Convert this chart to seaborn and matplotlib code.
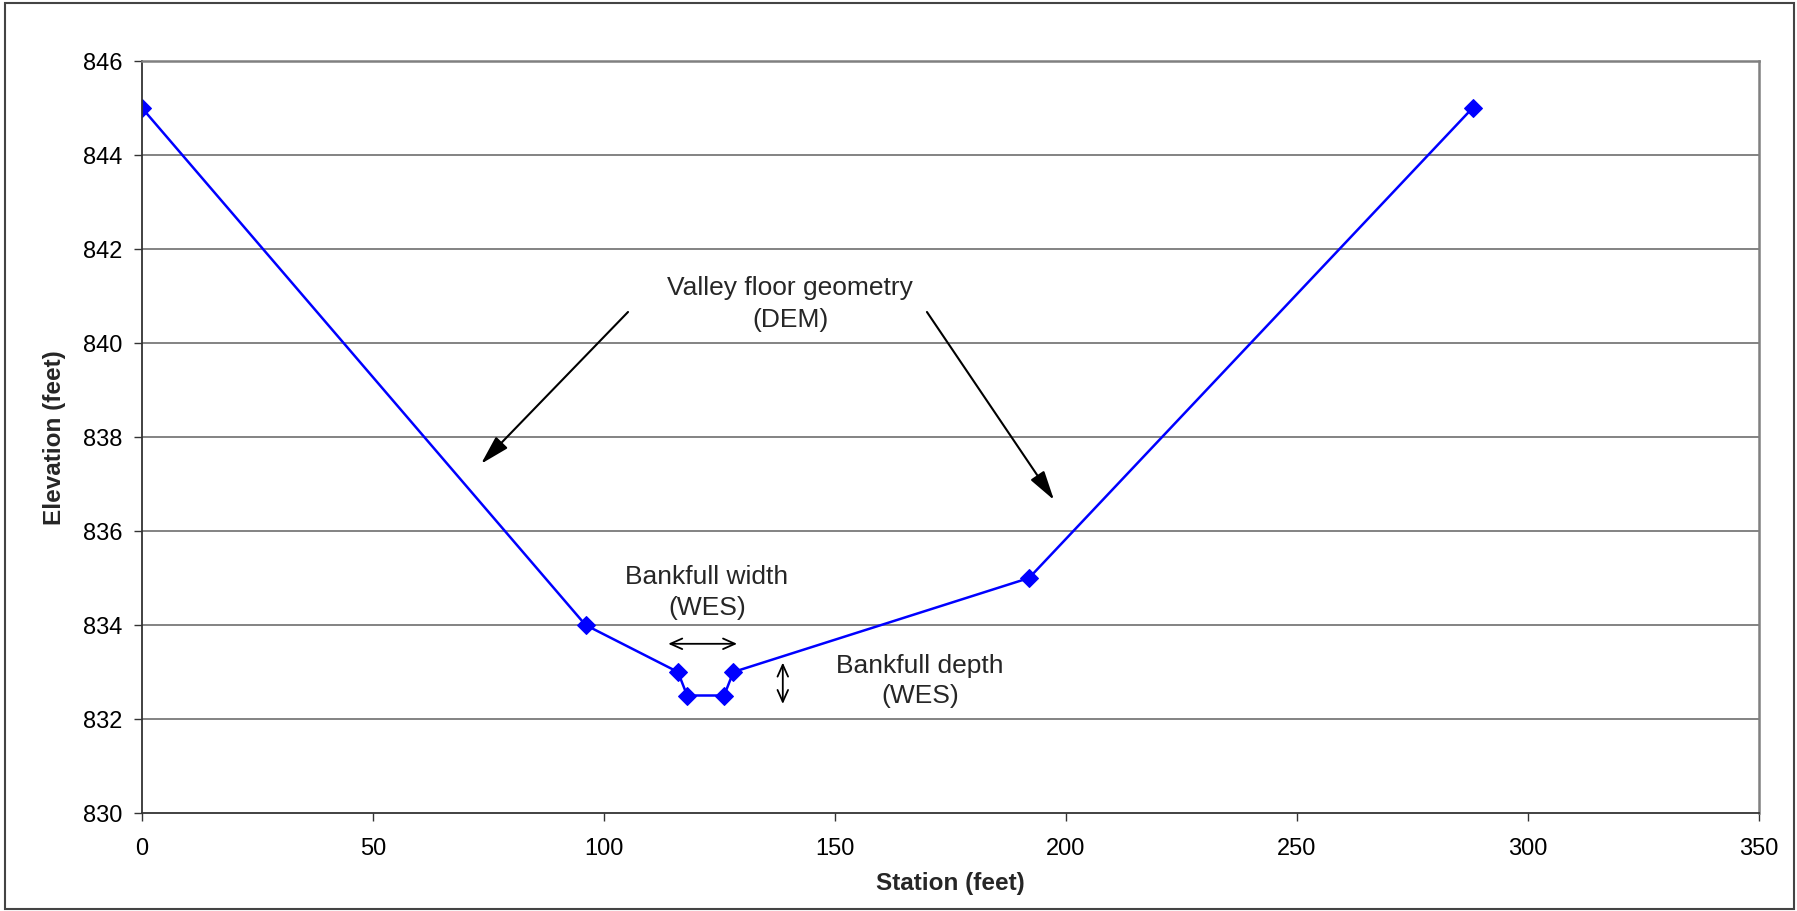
import matplotlib
matplotlib.use("Agg")
import matplotlib.pyplot as plt
import seaborn as sns
import pandas as pd
from matplotlib.patches import Rectangle

# cross section points
station = [0, 96, 116, 118, 126, 128, 192, 288]
elevation = [845, 834, 833, 832.5, 832.5, 833, 835, 845]

x_ticks = [0, 50, 100, 150, 200, 250, 300, 350]
y_ticks = [830, 832, 834, 836, 838, 840, 842, 844, 846]

df = pd.DataFrame({"Station": station, "Elevation": elevation})

sns.set_style("white")
plt.rcParams["font.family"] = ["Liberation Sans", "DejaVu Sans"]

fig = plt.figure(figsize=(17.97, 9.12), dpi=100)
ax = fig.add_axes([142 / 1797, 1 - 814 / 912, (1759 - 142) / 1797, (814 - 62) / 912])

# outer chart border
fig.patches.append(Rectangle((5 / 1797, 2 / 912), 1789 / 1797, 906 / 912,
                             transform=fig.transFigure, fill=False,
                             edgecolor="#444444", linewidth=1.5))

for y in y_ticks[1:]:
    ax.axhline(y, color="#7a7a7a", linewidth=1.3, zorder=0)

sns.lineplot(data=df, x="Station", y="Elevation", sort=False, color="#0000FF",
             marker="D", markersize=9.5, markeredgecolor="#0000FF",
             linewidth=1.8, ax=ax)

ax.set_xlim(0, 350)
ax.set_ylim(830, 846)
ax.set_xticks(x_ticks)
ax.set_yticks(y_ticks)
ax.tick_params(axis="both", direction="out", length=6, width=1, color="#333333",
               labelsize=17, labelcolor="black", left=True, bottom=True)
ax.tick_params(axis="x", pad=11)
ax.tick_params(axis="y", pad=8)

for side in ["left", "bottom"]:
    ax.spines[side].set_color("#333333")
    ax.spines[side].set_linewidth(1.3)
for side in ["top", "right"]:
    ax.spines[side].set_color("#808080")
    ax.spines[side].set_linewidth(1.8)

ax.set_xlabel("Station (feet)", fontsize=17.5, fontweight="bold", labelpad=9)
ax.set_ylabel("Elevation (feet)", fontsize=17.5, fontweight="bold", labelpad=12)

# annotations
big_head = "-|>,head_length=1.8,head_width=0.5"
small_head = "<->,head_length=0.85,head_width=0.38"

ax.text(140.3, 840.86, "Valley floor geometry\n(DEM)", ha="center", va="center",
        fontsize=19, linespacing=1.42)
ax.annotate("", xy=(73.4, 837.43), xytext=(105.2, 840.66),
            arrowprops=dict(arrowstyle=big_head, color="black", linewidth=1.5,
                            shrinkA=0, shrinkB=0))
ax.annotate("", xy=(197.4, 836.66), xytext=(169.9, 840.66),
            arrowprops=dict(arrowstyle=big_head, color="black", linewidth=1.5,
                            shrinkA=0, shrinkB=0))

ax.text(122.3, 834.71, "Bankfull width\n(WES)", ha="center", va="center",
        fontsize=19, linespacing=1.36)
ax.annotate("", xy=(113.9, 833.6), xytext=(128.8, 833.6),
            arrowprops=dict(arrowstyle=small_head, color="black", linewidth=1.3,
                            shrinkA=0, shrinkB=0))

ax.text(168.4, 832.83, "Bankfull depth\n(WES)", ha="center", va="center",
        fontsize=19, linespacing=1.36)
ax.annotate("", xy=(138.7, 833.2), xytext=(138.7, 832.32),
            arrowprops=dict(arrowstyle=small_head, color="black", linewidth=1.3,
                            shrinkA=0, shrinkB=0))

fig.savefig("out.png", dpi=100)
